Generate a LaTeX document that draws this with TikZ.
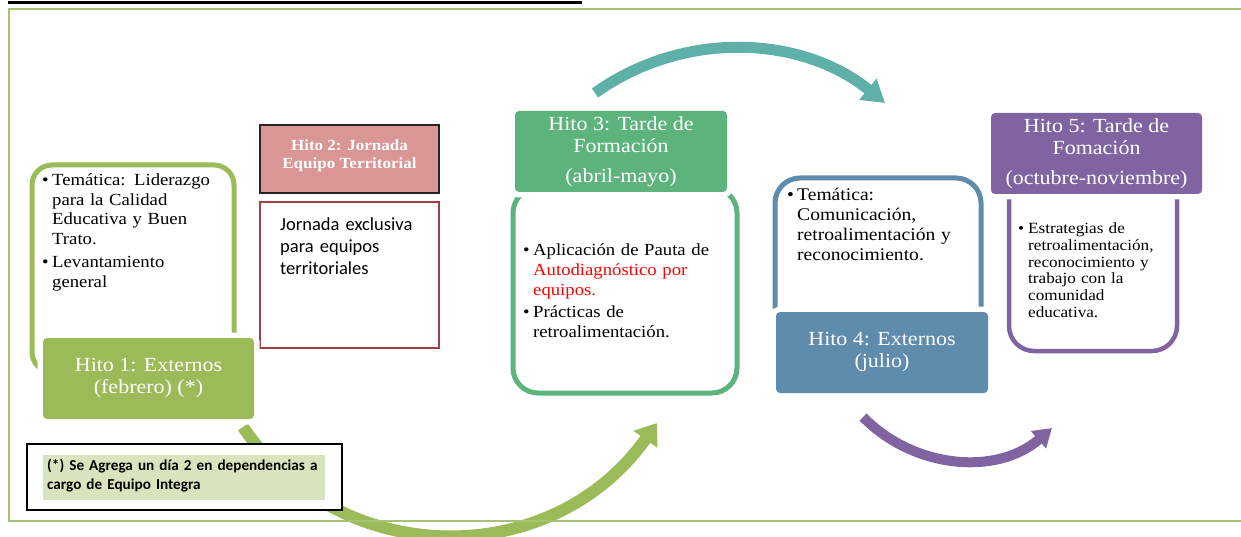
\documentclass[tikz,border=0pt]{standalone}
\usepackage{fontspec}
\setmainfont{Liberation Serif}[FakeStretch=1.1]
\newfontfamily\calibfont{Carlito}
\usetikzlibrary{arrows.meta}
\definecolor{hgreen}{HTML}{9BBB59}
\definecolor{hgreenB}{HTML}{5CB47C}
\definecolor{hteal}{HTML}{5FB0A8}
\definecolor{hblue}{HTML}{5F8BAD}
\definecolor{hpurple}{HTML}{8064A2}
\definecolor{hpink}{HTML}{D99694}
\definecolor{hdred}{HTML}{9C4240}
\definecolor{notefill}{HTML}{D7E4BD}
\definecolor{framegreen}{HTML}{A5C374}
\newlength\bulind
\setlength\bulind{10pt}
\newcommand\bulitem[1]{\hangindent=\bulind\hangafter=1\makebox[\bulind][l]{\textbullet}#1\par}
\tikzset{
  hdr/.style={rounded corners=4pt, inner sep=0pt, text=white, align=center,
    font=\fontsize{20}{22}\selectfont, preaction={draw=white, line width=11pt}},
  cbox/.style={draw, rounded corners=#1, line width=5pt, inner sep=0pt},
  ctext/.style={anchor=base west, inner sep=0pt, align=left, text width=#1},
}
\begin{document}
\begin{tikzpicture}[x=1pt,y=-1pt]
\useasboundingbox (0,0) rectangle (1241,537);
% top rule
\draw[line width=3pt] (8,3) -- (582,3);
% arrows
\coordinate (ga) at (243,427);
\coordinate (gb) at (657,423);
\draw[hgreen, line width=12pt, -{Triangle[width=28pt,length=20pt]}]
  (ga) .. controls (340,570) and (551,572) .. (gb);
\coordinate (ta) at (595,93);
\coordinate (tb) at (885,103);
\draw[hteal, line width=11pt, -{Triangle[width=26pt,length=22pt]}]
  (ta) .. controls (683,30) and (801,35) .. (tb);
\coordinate (pa) at (863,417);
\coordinate (pb) at (1052,428);
\draw[hpurple, line width=10pt, -{Triangle[width=22pt,length=18pt]}]
  (pa) .. controls (914,469) and (997,476) .. (pb);
% content boxes
\node[cbox=20pt, draw=hgreen, minimum width=202pt, minimum height=207pt] (c1) at (133,268.5) {};
\node[cbox=25pt, draw=hgreenB, minimum width=224pt, minimum height=205pt] (c3) at (625,290.5) {};
\node[cbox=25pt, draw=hblue, minimum width=206pt, minimum height=157pt] (c4) at (878,256.5) {};
\node[cbox=25pt, draw=hpurple, line width=4.5pt, minimum width=168pt, minimum height=181pt] (c5) at (1093,260.5) {};
% hito 2
\node[draw=black!85, line width=1.5pt, fill=hpink, minimum width=179pt, minimum height=68pt, inner sep=0pt] (h2) at (349.5,159) {};
\node[text=white, align=center, font=\bfseries\fontsize{15.5}{18}\selectfont, inner sep=0pt] (h2t) at (349.5,156) {Hito 2: Jornada\\Equipo Territorial};
\node[draw=hdred, line width=2pt, minimum width=179pt, minimum height=146pt, inner sep=0pt] (c2) at (349.5,275) {};
\node[ctext=160pt, font=\calibfont\fontsize{18.5}{22}\selectfont] (t2) at (280,230.5)
  {Jornada exclusiva\newline para equipos\newline territoriales};
% headers
\node[hdr, fill=hgreen, minimum width=211pt, minimum height=81pt] (h1) at (148.5,378.5) {Hito 1: Externos\\(febrero) (*)};
\node[hdr, fill=hgreenB, minimum width=212pt, minimum height=81pt] (h3) at (621,151.5) {Hito 3: Tarde de\\Formación\\[8pt](abril-mayo)};
\node[hdr, fill=hblue, minimum width=212pt, minimum height=81pt] (h4) at (882,352.5) {Hito 4: Externos\\(julio)};
\node[hdr, fill=hpurple, minimum width=211pt, minimum height=81pt] (h5) at (1096.5,153.5) {Hito 5: Tarde de\\Fomación\\[8pt](octubre-noviembre)};
% content texts
\node[ctext=190pt, font=\fontsize{17}{19.5}\selectfont] (t1) at (42,186)
  {\bulitem{Temática: Liderazgo\newline para la Calidad\newline Educativa y Buen\newline Trato.}\vspace{3.5pt}\bulitem{Levantamiento\newline general}};
\node[ctext=215pt, font=\fontsize{17}{20}\selectfont] (t3) at (523,255)
  {\bulitem{Aplicación de Pauta de\newline {\color{red}Autodiagnóstico por\newline equipos.}}\vspace{2pt}\bulitem{Prácticas de\newline retroalimentación.}};
\node[ctext=195pt, font=\fontsize{17.8}{19.7}\selectfont] (t4) at (787,201)
  {\bulitem{Temática:\newline Comunicación,\newline retroalimentación y\newline reconocimiento.}};
\node[ctext=160pt, font=\fontsize{15.6}{16.8}\selectfont] (t5) at (1018,233.5)
  {\bulitem{Estrategias de\newline retroalimentación,\newline reconocimiento y\newline trabajo con la\newline comunidad\newline educativa.}};
% note
\node[draw=black, line width=2pt, fill=white, minimum width=315pt, minimum height=66pt, inner sep=0pt] (nb) at (184.5,477) {};
\node[fill=notefill, minimum width=282pt, minimum height=45pt, inner sep=0pt] (nf) at (184,477.5) {};
\node[ctext=285pt, font=\calibfont\bfseries\fontsize{15.2}{19}\selectfont] (nt) at (47,470)
  {(*) Se Agrega un día 2 en dependencias a\newline cargo de Equipo Integra};
% frame
\draw[framegreen, line width=2pt] (1250,9) -- (9,9) -- (9,521) -- (1250,521);
\end{tikzpicture}
\end{document}
